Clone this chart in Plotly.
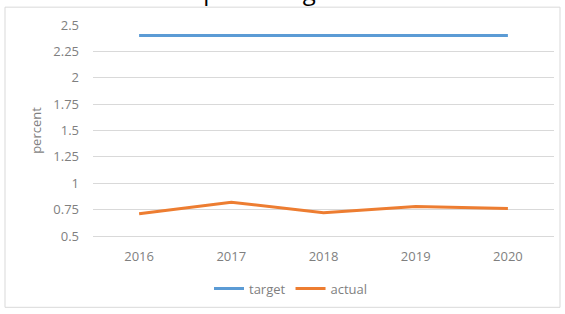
import plotly.graph_objects as go

years = ["2016", "2017", "2018", "2019", "2020"]
target = [2.4, 2.4, 2.4, 2.4, 2.4]
actual = [0.71, 0.82, 0.72, 0.78, 0.76]
ytick_vals = [0.5, 0.75, 1, 1.25, 1.5, 1.75, 2, 2.25, 2.5]
ytick_text = ["0.5", "0.75", "1", "1.25", "1.5", "1.75", "2", "2.25", "2.5"]
title_text = "Allocation as a percentage of health care costs"

W, H = 565, 314
L, R, T, B = 93, 11, 25, 76
pw, ph = W - L - R, H - T - B
FC = "#7f7f7f"
FS = 13

def px_x(p):
    return (p - L) / pw

def px_y(p):
    return (H - B - p) / ph

fig = go.Figure()
fig.add_trace(go.Scatter(x=years, y=target, mode="lines", name="target",
                         line=dict(color="#5B9BD5", width=3)))
fig.add_trace(go.Scatter(x=years, y=actual, mode="lines", name="actual",
                         line=dict(color="#ED7D31", width=3)))

fig.update_layout(
    width=W, height=H,
    margin=dict(l=L, r=R, t=T, b=B),
    paper_bgcolor="white", plot_bgcolor="white",
    font=dict(family="Open Sans", size=FS, color=FC),
    showlegend=True,
    legend=dict(orientation="h", x=px_x(291), xanchor="center", y=px_y(291), yanchor="middle",
                font=dict(size=FS, color=FC), itemwidth=30, tracegroupgap=0),
    xaxis=dict(type="category", range=[-0.5, 4.5], showgrid=False,
               showline=True, linecolor="#d9d9d9", linewidth=1,
               ticks="", ticklabelstandoff=8,
               tickfont=dict(size=FS, color=FC), fixedrange=True),
    yaxis=dict(range=[0.5, 2.5], tickvals=ytick_vals, ticktext=ytick_text,
               showgrid=True, gridcolor="#d9d9d9", gridwidth=1, zeroline=False,
               showline=False, ticks="", ticklabelstandoff=13,
               tickfont=dict(size=FS, color=FC), fixedrange=True,
               title=dict(text="percent", font=dict(size=FS, color=FC), standoff=8)),
    shapes=[dict(type="rect", xref="paper", yref="paper",
                 x0=px_x(5), x1=px_x(560), y0=px_y(310), y1=px_y(7),
                 line=dict(color="#d9d9d9", width=1), layer="below")],
    annotations=[dict(text=title_text, xref="paper", yref="paper",
                      x=px_x(555), y=px_y(-10), xanchor="right", yanchor="middle",
                      showarrow=False, font=dict(size=24, color="black", family="Open Sans"))],
)

fig.write_html("out.html", config={"displayModeBar": False},
               post_script="document.body.style.margin='0';document.body.style.overflow='hidden';")
